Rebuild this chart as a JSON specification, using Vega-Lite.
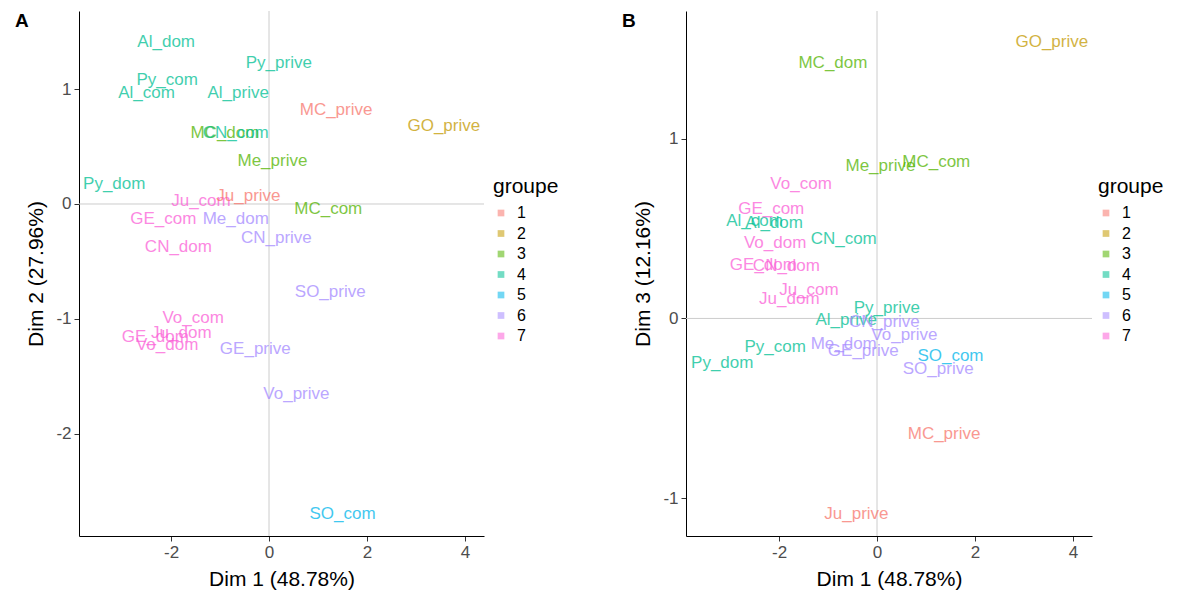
{
  "$schema": "https://vega.github.io/schema/vega-lite/v6.json",
  "background": "white",
  "padding": {"left": 15, "top": 10, "right": 5, "bottom": 5},
  "datasets": {
    "pts": [
      {"label": "Al_dom", "dim1": -2.10, "dim2": 1.41, "dim3": 0.53, "groupe": "4"},
      {"label": "Al_com", "dim1": -2.50, "dim2": 0.97, "dim3": 0.54, "groupe": "4"},
      {"label": "Al_prive", "dim1": -0.63, "dim2": 0.97, "dim3": -0.01, "groupe": "4"},
      {"label": "Py_dom", "dim1": -3.16, "dim2": 0.17, "dim3": -0.25, "groupe": "4"},
      {"label": "Py_com", "dim1": -2.08, "dim2": 1.08, "dim3": -0.16, "groupe": "4"},
      {"label": "Py_prive", "dim1": 0.20, "dim2": 1.23, "dim3": 0.06, "groupe": "4"},
      {"label": "MC_dom", "dim1": -0.90, "dim2": 0.62, "dim3": 1.42, "groupe": "3"},
      {"label": "MC_com", "dim1": 1.21, "dim2": -0.04, "dim3": 0.87, "groupe": "3"},
      {"label": "MC_prive", "dim1": 1.37, "dim2": 0.82, "dim3": -0.64, "groupe": "1"},
      {"label": "GO_prive", "dim1": 3.57, "dim2": 0.68, "dim3": 1.54, "groupe": "2"},
      {"label": "CN_com", "dim1": -0.68, "dim2": 0.62, "dim3": 0.44, "groupe": "4"},
      {"label": "CN_dom", "dim1": -1.85, "dim2": -0.37, "dim3": 0.29, "groupe": "7"},
      {"label": "CN_prive", "dim1": 0.15, "dim2": -0.30, "dim3": -0.02, "groupe": "6"},
      {"label": "Me_prive", "dim1": 0.07, "dim2": 0.37, "dim3": 0.85, "groupe": "3"},
      {"label": "Me_dom", "dim1": -0.68, "dim2": -0.13, "dim3": -0.14, "groupe": "6"},
      {"label": "Ju_com", "dim1": -1.39, "dim2": 0.03, "dim3": 0.16, "groupe": "7"},
      {"label": "Ju_prive", "dim1": -0.42, "dim2": 0.07, "dim3": -1.09, "groupe": "1"},
      {"label": "Ju_dom", "dim1": -1.79, "dim2": -1.12, "dim3": 0.11, "groupe": "7"},
      {"label": "GE_com", "dim1": -2.16, "dim2": -0.13, "dim3": 0.61, "groupe": "7"},
      {"label": "GE_dom", "dim1": -2.32, "dim2": -1.16, "dim3": 0.30, "groupe": "7"},
      {"label": "GE_prive", "dim1": -0.28, "dim2": -1.26, "dim3": -0.18, "groupe": "6"},
      {"label": "Vo_com", "dim1": -1.55, "dim2": -0.99, "dim3": 0.75, "groupe": "7"},
      {"label": "Vo_dom", "dim1": -2.08, "dim2": -1.23, "dim3": 0.42, "groupe": "7"},
      {"label": "Vo_prive", "dim1": 0.56, "dim2": -1.65, "dim3": -0.09, "groupe": "6"},
      {"label": "SO_prive", "dim1": 1.25, "dim2": -0.77, "dim3": -0.28, "groupe": "6"},
      {"label": "SO_com", "dim1": 1.50, "dim2": -2.70, "dim3": -0.21, "groupe": "5"}
    ]
  },
  "bounds": "flush",
  "spacing": 202,
  "hconcat": [
    {
      "width": 405,
      "height": 525,
      "title": {"text": "A"},
      "layer": [
        {
          "data": {"values": [{}]},
          "mark": {"type": "rule", "color": "#CCCCCC", "strokeWidth": 1},
          "encoding": {"x": {"datum": 0, "type": "quantitative"}}
        },
        {
          "data": {"values": [{}]},
          "mark": {"type": "rule", "color": "#CCCCCC", "strokeWidth": 1},
          "encoding": {"y": {"datum": 0, "type": "quantitative"}}
        },
        {
          "data": {"name": "pts"},
          "mark": {"type": "text", "fontSize": 17, "font": "Liberation Sans", "opacity": 0.75},
          "encoding": {
            "x": {"field": "dim1", "type": "quantitative", "title": "Dim 1 (48.78%)",
                  "scale": {"domain": [-3.88, 4.39], "nice": false, "zero": false},
                  "axis": {"values": [-2, 0, 2, 4], "labelExpr": "'' + datum.value"}},
            "y": {"field": "dim2", "type": "quantitative", "title": "Dim 2 (27.96%)",
                  "scale": {"domain": [-2.89, 1.68], "nice": false, "zero": false},
                  "axis": {"values": [-2, -1, 0, 1], "labelExpr": "'' + datum.value"}},
            "text": {"field": "label"},
            "color": {"field": "groupe", "type": "nominal",
                      "scale": {"domain": ["1", "2", "3", "4", "5", "6", "7"],
                                "range": ["#F8766D", "#C49A00", "#53B400", "#00C094", "#00B6EB", "#A58AFF", "#FB61D7"]},
                      "legend": {"title": "groupe", "orient": "none", "legendX": 414, "legendY": 165}}
          }
        }
      ]
    },
    {
      "width": 406,
      "height": 525,
      "title": {"text": "B"},
      "layer": [
        {
          "data": {"values": [{}]},
          "mark": {"type": "rule", "color": "#CCCCCC", "strokeWidth": 1},
          "encoding": {"x": {"datum": 0, "type": "quantitative"}}
        },
        {
          "data": {"values": [{}]},
          "mark": {"type": "rule", "color": "#CCCCCC", "strokeWidth": 1},
          "encoding": {"y": {"datum": 0, "type": "quantitative"}}
        },
        {
          "data": {"name": "pts"},
          "mark": {"type": "text", "fontSize": 17, "font": "Liberation Sans", "opacity": 0.75},
          "encoding": {
            "x": {"field": "dim1", "type": "quantitative", "title": "Dim 1 (48.78%)",
                  "scale": {"domain": [-3.90, 4.39], "nice": false, "zero": false},
                  "axis": {"values": [-2, 0, 2, 4], "labelExpr": "'' + datum.value"}},
            "y": {"field": "dim3", "type": "quantitative", "title": "Dim 3 (12.16%)",
                  "scale": {"domain": [-1.21, 1.71], "nice": false, "zero": false},
                  "axis": {"values": [-1, 0, 1], "labelExpr": "'' + datum.value"}},
            "text": {"field": "label"},
            "color": {"field": "groupe", "type": "nominal",
                      "scale": {"domain": ["1", "2", "3", "4", "5", "6", "7"],
                                "range": ["#F8766D", "#C49A00", "#53B400", "#00C094", "#00B6EB", "#A58AFF", "#FB61D7"]},
                      "legend": {"title": "groupe", "orient": "none", "legendX": 412, "legendY": 165}}
          }
        }
      ]
    }
  ],
  "resolve": {
    "scale": {"x": "independent", "y": "independent", "color": "independent"},
    "legend": {"color": "independent"}
  },
  "config": {
    "font": "Liberation Sans",
    "view": {"stroke": null},
    "title": {"anchor": "start", "frame": "group", "fontSize": 19, "fontWeight": "bold", "color": "#000000", "dx": -64, "offset": -20},
    "axis": {
      "grid": false,
      "domainColor": "#000000",
      "domainWidth": 1,
      "tickColor": "#333333",
      "tickSize": 5,
      "labelColor": "#4D4D4D",
      "labelFontSize": 17,
      "labelPadding": 3,
      "titleFontSize": 21,
      "titleFontWeight": "normal",
      "titleColor": "#000000"
    },
    "axisX": {"titlePadding": 8},
    "axisY": {"titlePadding": 9},
    "legend": {
      "titleFontSize": 21,
      "titleFontWeight": "normal",
      "titleColor": "#000000",
      "titlePadding": 8,
      "labelFontSize": 16,
      "labelColor": "#000000",
      "symbolType": "square",
      "symbolSize": 45,
      "symbolOpacity": 0.55,
      "symbolStrokeWidth": 0,
      "rowPadding": 4.5,
      "labelOffset": 8
    }
  }
}
